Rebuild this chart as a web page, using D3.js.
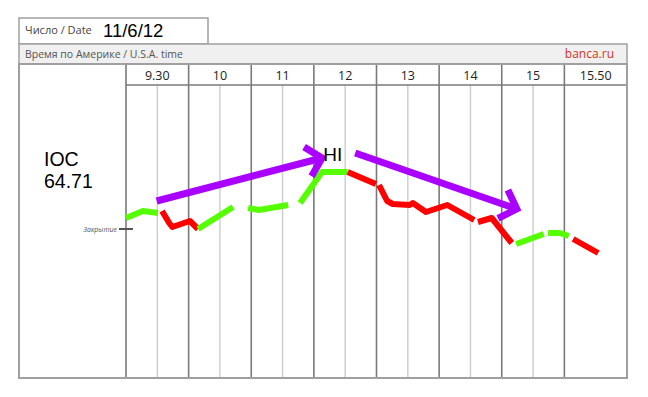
<!DOCTYPE html>
<html>
<head>
<meta charset="utf-8">
<script src="https://cdn.jsdelivr.net/npm/d3@7"></script>
<style>
  body { margin: 0; background: #fff; }
  svg text { font-family: "Open Sans", "Noto Sans", sans-serif; }
</style>
</head>
<body>
<svg id="chart" width="648" height="397"></svg>
<script>
// columns of the intraday grid (US session)
let columns = ["9.30", "10", "11", "12", "13", "14", "15", "15.50"];
let ticker = "IOC",
    closePrice = 64.71,
    dateLabel = "11/6/12";

// price path, split in coloured pieces: [column position, price]
let segColors = ["up", "down", "up", "up", "up", "down", "down", "down", "up", "up", "down"];
let segPoints = [
    [[0.00, 64.82], [0.27, 64.89], [0.51, 64.87]],
    [[0.575, 64.89], [0.69, 64.77], [0.74, 64.73], [1.02, 64.79], [1.15, 64.71]],
    [[1.15, 64.71], [1.71, 64.93]],
    [[1.95, 64.92], [2.12, 64.90], [2.59, 64.95]],
    [[2.78, 64.97], [3.13, 65.28], [3.54, 65.28]],
    [[3.54, 65.28], [3.99, 65.16]],
    [[4.04, 65.15], [4.17, 64.99], [4.26, 64.96], [4.53, 64.95], [4.58, 64.97], [4.79, 64.88], [5.13, 64.95], [5.56, 64.80]],
    [[5.62, 64.78], [5.84, 64.82], [6.16, 64.57]],
    [[6.23, 64.56], [6.67, 64.66]],
    [[6.74, 64.67], [6.93, 64.67], [7.07, 64.64]],
    [[7.14, 64.61], [7.54, 64.47]]
];

// trend arrows: start / end
let arrowFrom = [[0.49, 64.99], [3.66, 65.47]];
let arrowTo = [[3.13, 65.42], [6.24, 64.91]];
let hiPoint = [3.15, 65.40];

let colorMap = {up: "#55ff00", down: "#ff0000"};

let svg = d3.select("#chart"),
    frameLeft = 19, frameRight = 627, frameTop = 18, frameBottom = 378,
    gridLeft = 126, bandTop = 44, headTop = 64, headBottom = 85;

let x = d3.scaleLinear().domain([0, columns.length]).range([gridLeft, frameRight]);
let y = d3.scaleLinear().domain([closePrice - (frameBottom - 229) / 100, closePrice + (229 - headBottom) / 100])
    .range([frameBottom, headBottom]);

// date box
svg.append("rect").attr("x", frameLeft).attr("y", frameTop).attr("width", 189).attr("height", bandTop - frameTop)
    .attr("fill", "#fff").attr("stroke", "#a0a0a0").attr("stroke-width", 1.5);
svg.append("text").attr("x", 25).attr("y", 34).attr("font-size", 11).attr("fill", "#444").text("Число / Date");
svg.append("text").attr("x", 103).attr("y", 37).attr("font-size", 18.5)
    .style("font-family", "'Liberation Sans', Arial, sans-serif").attr("fill", "#000").text(dateLabel);

// grey band
svg.append("rect").attr("x", frameLeft).attr("y", bandTop).attr("width", frameRight - frameLeft).attr("height", headTop - bandTop)
    .attr("fill", "#f0f0f0").attr("stroke", "#a0a0a0").attr("stroke-width", 1.5);
svg.append("text").attr("x", 25).attr("y", 58).attr("font-size", 10.5).attr("fill", "#555")
    .text("Время по Америке / U.S.A. time");
svg.append("text").attr("x", 614).attr("y", 58).attr("text-anchor", "end").attr("font-size", 12)
    .attr("fill", "#d4301c").text("banca.ru");

// grid
let half = d3.range(columns.length - 1).map(i => i + 0.5);
svg.append("g").selectAll("line").data(half).join("line")
    .attr("x1", d => x(d)).attr("x2", d => x(d))
    .attr("y1", headBottom).attr("y2", frameBottom)
    .attr("stroke", "#cfcfcf").attr("stroke-width", 1.5);
svg.append("g").selectAll("line").data(d3.range(columns.length)).join("line")
    .attr("x1", d => x(d)).attr("x2", d => x(d))
    .attr("y1", headTop).attr("y2", frameBottom)
    .attr("stroke", "#7a7a7a").attr("stroke-width", 1.6);
svg.append("line").attr("x1", gridLeft).attr("x2", frameRight).attr("y1", headBottom).attr("y2", headBottom)
    .attr("stroke", "#7a7a7a").attr("stroke-width", 1.5);
svg.append("g").selectAll("text").data(columns).join("text")
    .attr("x", (d, i) => x(i + 0.5)).attr("y", 79.5)
    .attr("text-anchor", "middle").attr("font-size", 12.5).attr("fill", "#222")
    .text(d => d);

// outer frame
svg.append("rect").attr("x", frameLeft).attr("y", headTop).attr("width", frameRight - frameLeft).attr("height", frameBottom - headTop)
    .attr("fill", "none").attr("stroke", "#a0a0a0").attr("stroke-width", 2);

// ticker
let tk = svg.append("text").attr("x", 44).attr("font-size", 19.5).attr("fill", "#000")
    .style("font-family", "'Liberation Sans', Arial, sans-serif");
tk.append("tspan").attr("x", 44).attr("y", 166).text(ticker);
tk.append("tspan").attr("x", 44).attr("y", 188).text(closePrice.toFixed(2));

// close marker
svg.append("line").attr("x1", gridLeft - 7).attr("x2", gridLeft + 7).attr("y1", y(closePrice)).attr("y2", y(closePrice))
    .attr("stroke", "#555").attr("stroke-width", 2);
svg.append("text").attr("x", gridLeft - 9).attr("y", y(closePrice) + 2.5).attr("text-anchor", "end")
    .attr("font-size", 7).attr("font-style", "italic").attr("fill", "#555").text("Закрытие");

// price path
let line = d3.line().x(d => x(d[0])).y(d => y(d[1]));
svg.append("g").selectAll("path").data(segPoints).join("path")
    .attr("d", line)
    .attr("fill", "none")
    .attr("stroke", (d, i) => colorMap[segColors[i]])
    .attr("stroke-width", 6)
    .attr("stroke-linejoin", "round")
    .attr("stroke-linecap", "butt");

// arrows
let ag = svg.append("g").attr("stroke", "#aa00ff").attr("stroke-width", 7).attr("fill", "none");
arrowFrom.forEach(function(a, i) {
    let b = arrowTo[i],
        x1 = x(a[0]), y1 = y(a[1]), x2 = x(b[0]), y2 = y(b[1]);
    let ang = Math.atan2(y2 - y1, x2 - x1), len = 21, spread = 0.8;
    ag.append("line").attr("x1", x1).attr("y1", y1).attr("x2", x2).attr("y2", y2);
    ag.append("path").attr("stroke-linejoin", "miter").attr("d",
        "M" + (x2 - len * Math.cos(ang - spread)) + "," + (y2 - len * Math.sin(ang - spread)) +
        "L" + x2 + "," + y2 +
        "L" + (x2 - len * Math.cos(ang + spread)) + "," + (y2 - len * Math.sin(ang + spread)));
});

svg.append("text").attr("x", x(hiPoint[0])).attr("y", y(hiPoint[1]) + 1)
    .attr("font-size", 19).style("font-family", "'Liberation Sans', Arial, sans-serif").text("HI");
</script>
</body>
</html>
